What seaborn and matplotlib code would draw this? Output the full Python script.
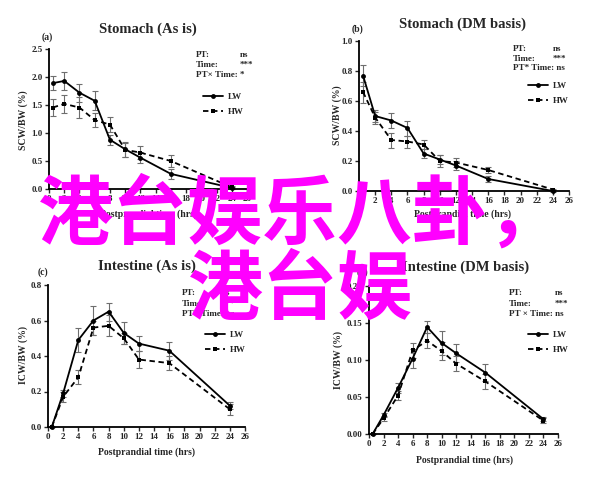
import numpy as np
import pandas as pd
import matplotlib
matplotlib.use("Agg")
import matplotlib.pyplot as plt
import seaborn as sns

# ---- data ----
time_hr = [0.5, 2, 4, 6, 8, 10, 12, 16, 24]

stomach_asis_lw = [1.89, 1.93, 1.72, 1.575, 0.88, 0.71, 0.56, 0.27, 0.02]
stomach_asis_lw_err = [0.12, 0.16, 0.16, 0.17, 0.09, 0.13, 0.10, 0.09, 0.02]
stomach_asis_hw = [1.455, 1.52, 1.455, 1.23, 1.15, 0.70, 0.65, 0.50, 0.03]
stomach_asis_hw_err = [0.16, 0.16, 0.19, 0.12, 0.13, 0.13, 0.12, 0.10, 0.02]

stomach_dm_lw = [0.77, 0.50, 0.47, 0.42, 0.25, 0.21, 0.17, 0.08, 0.0]
stomach_dm_lw_err = [0.07, 0.04, 0.05, 0.05, 0.03, 0.03, 0.03, 0.02, 0.005]
stomach_dm_hw = [0.66, 0.49, 0.34, 0.33, 0.31, 0.20, 0.19, 0.14, 0.01]
stomach_dm_hw_err = [0.07, 0.04, 0.05, 0.04, 0.03, 0.04, 0.03, 0.02, 0.005]

intestine_asis_lw = [0.0, 0.19, 0.49, 0.60, 0.65, 0.53, 0.47, 0.43, 0.12]
intestine_asis_lw_err = [0.0, 0.02, 0.07, 0.08, 0.05, 0.06, 0.04, 0.05, 0.02]
intestine_asis_hw = [0.0, 0.17, 0.28, 0.56, 0.57, 0.50, 0.38, 0.36, 0.10]
intestine_asis_hw_err = [0.0, 0.03, 0.04, 0.04, 0.06, 0.03, 0.05, 0.04, 0.03]

intestine_dm_lw = [0.0, 0.0254, 0.0625, 0.102, 0.1445, 0.123, 0.109, 0.083, 0.020]
intestine_dm_lw_err = [0.0, 0.003, 0.007, 0.013, 0.008, 0.016, 0.012, 0.012, 0.003]
intestine_dm_hw = [0.0, 0.021, 0.052, 0.113, 0.126, 0.112, 0.095, 0.071, 0.018]
intestine_dm_hw_err = [0.0, 0.003, 0.006, 0.010, 0.010, 0.012, 0.010, 0.010, 0.003]

groups = ["LW", "HW"]
x_ticks = list(range(0, 27, 2))
titles = ["Stomach (As is)", "Stomach (DM basis)", "Intestine (As is)", "Intestine (DM basis)"]
panel_tags = ["(a)", "(b)", "(c)", "(d)"]
ylabels = ["SCW/BW (%)", "SCW/BW (%)", "ICW/BW (%)", "ICW/BW (%)"]
xlabel = "Postprandial time (hrs)"
stats_lines = [
    ["PT:", "Time:", "PT\u00d7 Time: *"],
    ["PT:", "Time:", "PT* Time: ns"],
    ["PT:", "Time:", "PT\u00d7 Time: ns"],
    ["PT:", "Time:", "PT \u00d7 Time: ns"],
]
stats_vals = [["ns", "***"], ["ns", "***"], ["ns", "***"], ["ns", "***"]]
overlay_lines = ["港台娱乐八卦，", "港台娱"]

panels = [
    (stomach_asis_lw, stomach_asis_lw_err, stomach_asis_hw, stomach_asis_hw_err, np.arange(0, 2.51, 0.5), "%.1f"),
    (stomach_dm_lw, stomach_dm_lw_err, stomach_dm_hw, stomach_dm_hw_err, np.arange(0, 1.01, 0.2), "%.1f"),
    (intestine_asis_lw, intestine_asis_lw_err, intestine_asis_hw, intestine_asis_hw_err, np.arange(0, 0.81, 0.2), "%.1f"),
    (intestine_dm_lw, intestine_dm_lw_err, intestine_dm_hw, intestine_dm_hw_err, np.arange(0, 0.201, 0.05), "%.2f"),
]

# ---- layout (figure pixels: left, top, right, bottom) ----
W, H = 600, 483
ax_boxes = [(49, 49, 247, 189), (359, 41, 569, 191), (48, 285, 245, 427), (369, 286, 558, 434)]
title_pos = [(148, 29), (463, 24), (147, 266), (466, 267)]
tag_pos = [(47, 37), (357, 29), (43, 272), (362, 272)]
xlab_pos = [(148, 214), (463, 214), (147, 452), (465, 460)]
ylab_pos = [(23, 120), (337, 115), (23, 355), (338, 360)]
stat_pos = [(196, 55, 240), (513, 49, 553), (182, 293, 222), (509, 293, 555)]
stat_dy = [10, 9.5, 10.5, 10.5]
leg_pos = [(203, 107), (528, 96), (205, 345), (528, 345)]

sns.set_theme(style="ticks")
plt.rcParams["font.family"] = ["Liberation Serif", "DejaVu Serif"]
plt.rcParams["font.weight"] = "bold"

fig = plt.figure(figsize=(W / 100, H / 100), dpi=100)
fig.patch.set_facecolor("white")

def fx(px):
    return px / W

def fy(py):
    return 1 - py / H

for i, (lw, lwe, hw, hwe, yt, fmt) in enumerate(panels):
    l, t, r, b = ax_boxes[i]
    ax = fig.add_axes([fx(l), fy(b), (r - l) / W, (b - t) / H])
    ax.set_facecolor("white")
    df = pd.DataFrame({
        "time": time_hr * 2,
        "value": lw + hw,
        "err": lwe + hwe,
        "group": ["LW"] * len(time_hr) + ["HW"] * len(time_hr),
    })
    for g in groups:
        sub = df[df.group == g]
        ax.errorbar(sub["time"], sub["value"], yerr=sub["err"], fmt="none",
                    ecolor="#6e6e6e", elinewidth=0.8, capsize=2, capthick=0.8,
                    zorder=2, clip_on=False)
    sns.lineplot(data=df, x="time", y="value", style="group", style_order=groups,
                 markers={"LW": "o", "HW": "s"}, dashes={"LW": "", "HW": (3, 2)},
                 color="black", linewidth=1.3, markersize=3.5, markeredgewidth=0,
                 ax=ax, legend=True, zorder=3, clip_on=False)
    ax.set_xlim(0, 26)
    ax.set_ylim(0, yt[-1])
    ax.set_xticks(x_ticks)
    ax.set_xticklabels([str(v) for v in x_ticks])
    ax.set_yticks(yt)
    ax.set_yticklabels([fmt % v for v in yt])
    ax.tick_params(axis="both", labelsize=6.5, width=1.0, length=3, direction="out", pad=1.5)
    for lab in ax.get_xticklabels() + ax.get_yticklabels():
        lab.set_fontweight("bold")
    for s in ["top", "right"]:
        ax.spines[s].set_visible(False)
    for s in ["left", "bottom"]:
        ax.spines[s].set_linewidth(1.3)
        ax.spines[s].set_color("black")
    ax.set_xlabel("")
    ax.set_ylabel("")
    ax.grid(False)

    # legend
    lx, ly = leg_pos[i]
    leg = ax.legend(loc="upper left", bbox_to_anchor=(fx(lx), fy(ly - 14)),
                    bbox_transform=fig.transFigure, frameon=False,
                    prop={"size": 6.5, "weight": "bold"}, handlelength=2.2,
                    handletextpad=0.6, labelspacing=0.75, borderaxespad=0, borderpad=0)
    if leg.get_title() is not None:
        leg.set_title(None)

    fig.text(fx(title_pos[i][0]), fy(title_pos[i][1]), titles[i], ha="center", va="center",
             fontsize=10.5, fontweight="bold")
    fig.text(fx(tag_pos[i][0]), fy(tag_pos[i][1]), panel_tags[i], ha="center", va="center",
             fontsize=7, fontweight="bold")
    fig.text(fx(xlab_pos[i][0]), fy(xlab_pos[i][1]), xlabel, ha="center", va="center",
             fontsize=7, fontweight="bold")
    fig.text(fx(ylab_pos[i][0]), fy(ylab_pos[i][1]), ylabels[i], ha="center", va="center",
             fontsize=7, fontweight="bold", rotation=90)
    sx, sy, vx = stat_pos[i]
    for k, line in enumerate(stats_lines[i]):
        fig.text(fx(sx), fy(sy + k * stat_dy[i]), line, ha="left", va="center",
                 fontsize=6.5, fontweight="bold")
    for k, val in enumerate(stats_vals[i]):
        fig.text(fx(vx), fy(sy + k * stat_dy[i]), val, ha="left", va="center",
                 fontsize=6.5, fontweight="bold")

# overlay magenta text
fig.text(0.5, fy(216), overlay_lines[0], ha="center", va="center", fontsize=54,
         color="#ff00ff", family=["Noto Sans CJK SC", "DejaVu Sans"], zorder=10)
fig.text(0.5, fy(291), overlay_lines[1], ha="center", va="center", fontsize=54,
         color="#ff00ff", family=["Noto Sans CJK SC", "DejaVu Sans"], zorder=10)

fig.savefig("out.png", dpi=100, facecolor="white")
